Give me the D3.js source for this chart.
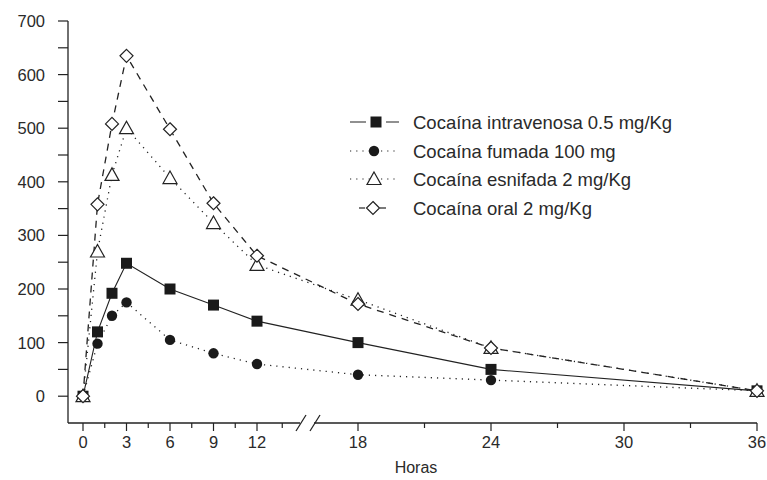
<!DOCTYPE html>
<html>
<head>
<meta charset="utf-8">
<script src="https://cdn.jsdelivr.net/npm/d3@7"></script>
<style>
  body { margin: 0; background: #fff; }
  text { font-family: "Liberation Sans", Arial, sans-serif; fill: #2a2a2a; }
</style>
</head>
<body>
<div id="chart"></div>
<script>
var horas = [0, 1, 2, 3, 6, 9, 12, 18, 24, 36];
var intravenosa = [0, 120, 192, 248, 200, 170, 140, 100, 50, 10];
var fumada = [0, 98, 150, 175, 105, 80, 60, 40, 30, 10];
var esnifada = [0, 270, 413, 500, 407, 323, 245, 180, 90, 10];
var oral = [0, 358, 508, 635, 498, 360, 262, 172, 90, 10];
var seriesNames = ["Cocaína intravenosa 0.5 mg/Kg", "Cocaína fumada 100 mg", "Cocaína esnifada 2 mg/Kg", "Cocaína oral 2 mg/Kg"];
var xTickLabels = [0, 3, 6, 9, 12, 18, 24, 30, 36];
var yTickLabels = [0, 100, 200, 300, 400, 500, 600, 700];

var width = 767, height = 480;
var svg = d3.select("#chart").append("svg")
    .attr("width", width)
    .attr("height", height);

// broken x axis: 0-13.5 compressed, 18-36 wider
var x = d3.scaleLinear()
    .domain([0, 12, 18, 36])
    .range([83, 257, 358, 757]);
var y = d3.scaleLinear()
    .domain([-50, 700])
    .range([423, 21]);

var axisY = 423, axisX = 68;

// y axis
svg.append("line")
    .attr("x1", axisX).attr("x2", axisX)
    .attr("y1", y(700)).attr("y2", axisY)
    .attr("stroke", "#222").attr("stroke-width", 1.3);
var yMinor = d3.range(0, 701, 50);
svg.selectAll(".ytick").data(yMinor).enter().append("line")
    .attr("x1", axisX - 10).attr("x2", axisX)
    .attr("y1", function (d) { return y(d); })
    .attr("y2", function (d) { return y(d); })
    .attr("stroke", "#222").attr("stroke-width", 1.2);
svg.selectAll(".ylab").data(yTickLabels).enter().append("text")
    .attr("x", 45)
    .attr("y", function (d) { return y(d) + 6; })
    .attr("text-anchor", "end")
    .style("font-size", "16.5px")
    .text(function (d) { return d; });

// x axis with break
var breakL = 300, breakR = 314;
svg.append("line")
    .attr("x1", axisX).attr("x2", breakL)
    .attr("y1", axisY).attr("y2", axisY)
    .attr("stroke", "#222").attr("stroke-width", 1.3);
svg.append("line")
    .attr("x1", breakR).attr("x2", x(36))
    .attr("y1", axisY).attr("y2", axisY)
    .attr("stroke", "#222").attr("stroke-width", 1.3);
[breakL, breakR].forEach(function (bx) {
    svg.append("line")
        .attr("x1", bx - 4).attr("x2", bx + 6)
        .attr("y1", axisY + 8).attr("y2", axisY - 8)
        .attr("stroke", "#222").attr("stroke-width", 1.3);
});
var xMinor = d3.range(0, 13.6, 1.5).concat(d3.range(18, 36.1, 3));
svg.selectAll(".xtick").data(xMinor).enter().append("line")
    .attr("x1", function (d) { return x(d); })
    .attr("x2", function (d) { return x(d); })
    .attr("y1", axisY)
    .attr("y2", function (d) { return xTickLabels.indexOf(d) >= 0 ? axisY + 8 : axisY + 5; })
    .attr("stroke", "#222").attr("stroke-width", 1.2);
svg.selectAll(".xlab").data(xTickLabels).enter().append("text")
    .attr("x", function (d) { return x(d); })
    .attr("y", 448)
    .attr("text-anchor", "middle")
    .style("font-size", "16.5px")
    .text(function (d) { return d; });
svg.append("text")
    .attr("x", 416).attr("y", 473)
    .attr("text-anchor", "middle")
    .style("font-size", "16px")
    .text("Horas");

// series
var series = [
    { values: intravenosa, dash: null, marker: "square" },
    { values: fumada, dash: "1.2,5", marker: "circle" },
    { values: esnifada, dash: "1.2,5", marker: "triangle" },
    { values: oral, dash: "7,6", marker: "diamond" }
];

var line = d3.line()
    .x(function (d) { return x(d[0]); })
    .y(function (d) { return y(d[1]); });

function drawMarker(g, kind, cx, cy) {
    if (kind === "square") {
        g.append("rect").attr("x", cx - 5.5).attr("y", cy - 5.5)
            .attr("width", 11).attr("height", 11).attr("fill", "#1a1a1a");
    } else if (kind === "circle") {
        g.append("circle").attr("cx", cx).attr("cy", cy).attr("r", 5.2).attr("fill", "#1a1a1a");
    } else if (kind === "triangle") {
        g.append("path")
            .attr("d", "M" + cx + "," + (cy - 7) + "L" + (cx + 7) + "," + (cy + 5.5) + "L" + (cx - 7) + "," + (cy + 5.5) + "Z")
            .attr("fill", "#fff").attr("stroke", "#222").attr("stroke-width", 1.2);
    } else {
        g.append("path")
            .attr("d", "M" + cx + "," + (cy - 6.5) + "L" + (cx + 6.5) + "," + cy + "L" + cx + "," + (cy + 6.5) + "L" + (cx - 6.5) + "," + cy + "Z")
            .attr("fill", "#fff").attr("stroke", "#222").attr("stroke-width", 1.2);
    }
}

series.forEach(function (s) {
    var pts = horas.map(function (h, i) { return [h, s.values[i]]; });
    svg.append("path")
        .datum(pts)
        .attr("d", line)
        .attr("fill", "none")
        .attr("stroke", "#222")
        .attr("stroke-width", s.dash ? 1.3 : 1.1)
        .attr("stroke-dasharray", s.dash);
});
// markers drawn on top
[0, 1, 2, 3].forEach(function (k) {
    var s = series[k];
    var g = svg.append("g");
    horas.forEach(function (h, i) {
        drawMarker(g, s.marker, x(h), y(s.values[i]));
    });
});

// legend
var legY = [122, 151, 179, 208];
var lg = svg.append("g");
series.forEach(function (s, i) {
    var ly = legY[i];
    if (s.marker === "diamond") {
        lg.append("line").attr("x1", 359).attr("x2", 365).attr("y1", ly).attr("y2", ly)
            .attr("stroke", "#222").attr("stroke-width", 1.2);
        lg.append("line").attr("x1", 380).attr("x2", 386).attr("y1", ly).attr("y2", ly)
            .attr("stroke", "#222").attr("stroke-width", 1.2);
        drawMarker(lg, "diamond", 373, ly);
    } else {
        lg.append("line").attr("x1", 350).attr("x2", 399).attr("y1", ly).attr("y2", ly)
            .attr("stroke", "#222").attr("stroke-width", 1.2)
            .attr("stroke-dasharray", s.dash);
        if (s.marker === "square") {
            lg.append("rect").attr("x", 366).attr("y", ly - 6).attr("width", 20).attr("height", 12).attr("fill", "#fff");
        }
        drawMarker(lg, s.marker, s.marker === "square" ? 376 : 374, ly);
    }
    lg.append("text")
        .attr("x", 413).attr("y", ly + 6.5)
        .style("font-size", "18.5px")
        .text(seriesNames[i]);
});
</script>
</body>
</html>
